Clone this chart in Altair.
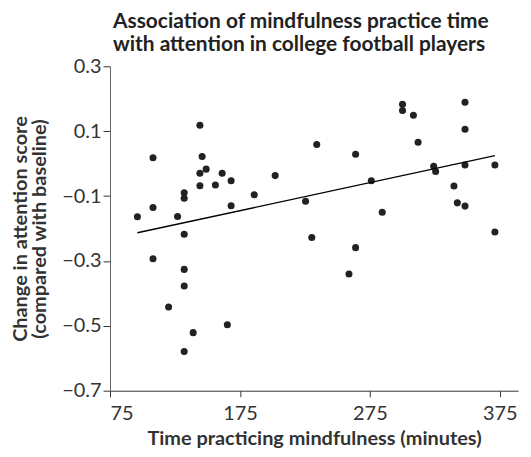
import altair as alt
import pandas as pd

minutes = [144.2, 108.1, 145.9, 149.0, 144.2, 161.3, 168.2, 144.2, 156.1, 132.1,
           132.1, 108.1, 96.1, 127.0, 168.2, 202.1, 186.0, 132.1, 108.1, 132.1,
           132.1, 120.1, 165.3, 139.0, 132.1, 234.1, 264.0, 276.1, 225.5, 284.5,
           230.3, 264.0, 258.9, 300.1, 300.1, 308.5, 348.2, 348.2, 312.1, 324.1,
           325.6, 348.2, 371.2, 339.7, 342.3, 348.2, 371.2]
change = [0.118, 0.018, 0.022, -0.017, -0.030, -0.030, -0.053, -0.068, -0.066, -0.090,
          -0.107, -0.135, -0.164, -0.163, -0.130, -0.037, -0.096, -0.218, -0.293, -0.326,
          -0.377, -0.442, -0.497, -0.521, -0.579, 0.059, 0.029, -0.053, -0.116, -0.150,
          -0.228, -0.259, -0.340, 0.183, 0.164, 0.149, 0.189, 0.106, 0.066, -0.008,
          -0.024, -0.004, -0.004, -0.069, -0.121, -0.131, -0.211]

x_ticks = [75, 175, 275, 375]
y_ticks = [0.3, 0.1, -0.1, -0.3, -0.5, -0.7]

df = pd.DataFrame({"minutes": minutes, "change": change})

FONT = "Lato"

x_enc = alt.X("minutes:Q",
              scale=alt.Scale(domain=[75, 389], nice=False, zero=False),
              axis=alt.Axis(values=x_ticks, title="Time practicing mindfulness (minutes)",
                            grid=False, format="d", labelFontSize=20, labelColor="#333",
                            labelFont=FONT, titleFont=FONT, titleFontSize=20,
                            titleFontWeight="bold", titleColor="#333", titlePadding=5,
                            domainColor="#333", tickColor="#333", tickSize=6,
                            labelPadding=7))
y_enc = alt.Y("change:Q",
              scale=alt.Scale(domain=[-0.7, 0.3], nice=False, zero=False),
              axis=alt.Axis(values=y_ticks, title=["Change in attention score", "(compared with baseline)"],
                            grid=False, format=".1f", labelFontSize=20, labelColor="#333",
                            labelFont=FONT, titleFont=FONT, titleFontSize=20,
                            titleFontWeight="bold", titleColor="#333", titlePadding=12,
                            titleLineHeight=19,
                            domainColor="#666", tickColor="#333", tickSize=7,
                            labelPadding=2))

points = alt.Chart(df).mark_circle(size=50, color="#222", opacity=1).encode(x=x_enc, y=y_enc)
line = alt.Chart(df).mark_line(color="#000", strokeWidth=1.4).transform_regression(
    "minutes", "change").encode(x="minutes:Q", y="change:Q")

chart = alt.layer(points, line).properties(
    width=410, height=326,
    autosize=alt.AutoSizeParams(type="none"),
    padding={"left": 102.5, "top": 57.5, "right": 5, "bottom": 58},
    title=alt.TitleParams(
        text=["Association of mindfulness practice time",
              "with attention in college football players"],
        font=FONT, fontSize=21, fontWeight="bold", color="#222",
        anchor="start", frame="group", dx=3, lineHeight=23, offset=1),
).configure_view(stroke=None)

chart.save("out.html", embed_options={"renderer": "svg", "actions": False})
